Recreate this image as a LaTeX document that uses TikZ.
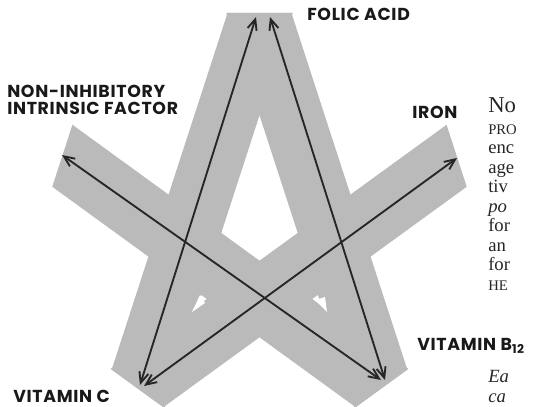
\documentclass[tikz,border=0pt]{standalone}
\usepackage{fontspec}
\setmainfont{Liberation Serif}
\newfontfamily\vitfont{Poppins}[LetterSpace=4]
\usetikzlibrary{arrows.meta,calc}

\begin{document}
\begin{tikzpicture}[x=0.75pt,y=-0.75pt,>={Straight Barb[length=8pt,width=7pt]},
  band/.style={line width=46.5pt,black!27},
  link/.style={<->,line width=1.4pt,black!85},
  lab/.style={font=\vitfont\bfseries\fontsize{13}{12.5}\selectfont,inner sep=0pt,
    text=black!90,align=left},
  bookline/.style={inner sep=0pt,anchor=base west,text=black!85,
    font=\fontsize{14}{16}\selectfont}]
  \useasboundingbox (0,0) rectangle (536,407);
  \coordinate (O) at (259.5,220.5);
  \foreach \a/\n in {-90/P0,-18/P1,54/P2,126/P3,198/P4}
    \coordinate (\n) at ($(O)+(\a:205.5)$);
  \begin{scope}
    \clip ($(O)+(-54:256.5)$) -- ($(O)+(18:256.5)$) -- ($(O)+(90:256.5)$)
      -- ($(O)+(162:256.5)$) -- ($(O)+(234:256.5)$) -- cycle;
    \foreach \a/\b in {P0/P3,P0/P2,P4/P2,P1/P3}
      \draw[band] ($(\a)!-0.15!(\b)$) -- ($(\b)!-0.15!(\a)$);
  \end{scope}
  \fill[white] (200,295) -- (205,303) -- (192,312) -- cycle;
  \fill[white] (315,300) -- (325,297) -- (327,312) -- cycle;

  \coordinate (folicL) at (256,17);
  \coordinate (folicR) at (270,17);
  \coordinate (nifEnd) at (62,155);
  \coordinate (ironEnd) at (457,158);
  \coordinate (vitCa) at (140,385);
  \coordinate (vitCb) at (144,386);
  \coordinate (vitBa) at (385,380);
  \coordinate (vitBb) at (381,380);
  \draw[link] (folicL) -- (vitCa);
  \draw[link] (folicR) -- (vitBa);
  \draw[link] (nifEnd) -- (vitBb);
  \draw[link] (ironEnd) -- (vitCb);

  \node[lab,anchor=west] (folic) at (307,14.5) {FOLIC ACID};
  \node[lab,anchor=north west] (nif) at (7,85) {NON-INHIBITORY\\INTRINSIC FACTOR};
  \node[lab,anchor=west] (iron) at (412,112.5) {IRON};
  \node[lab,anchor=west] (vitB) at (417,346) {VITAMIN B\textsubscript{12}};
  \node[lab,anchor=west] (vitC) at (13,396) {VITAMIN C};

  \node[bookline,font=\fontsize{17}{17}\selectfont] (no) at (488,112) {No};
  \node[bookline,font=\fontsize{11}{13}\selectfont] (pro) at (488,134) {PRO};
  \foreach \w [count=\i] in {enc,age,tiv,\textit{po},for,an,for}
    \node[bookline] (w\i) at (488,134+19.5*\i) {\w};
  \node[bookline,font=\fontsize{11}{13}\selectfont] (he) at (488,290) {HE};
  \node[bookline,font=\fontsize{14}{16}\itshape] (ea) at (488,382) {Ea};
  \node[bookline,font=\fontsize{14}{16}\itshape] (ca) at (488,402) {ca};
\end{tikzpicture}
\end{document}
